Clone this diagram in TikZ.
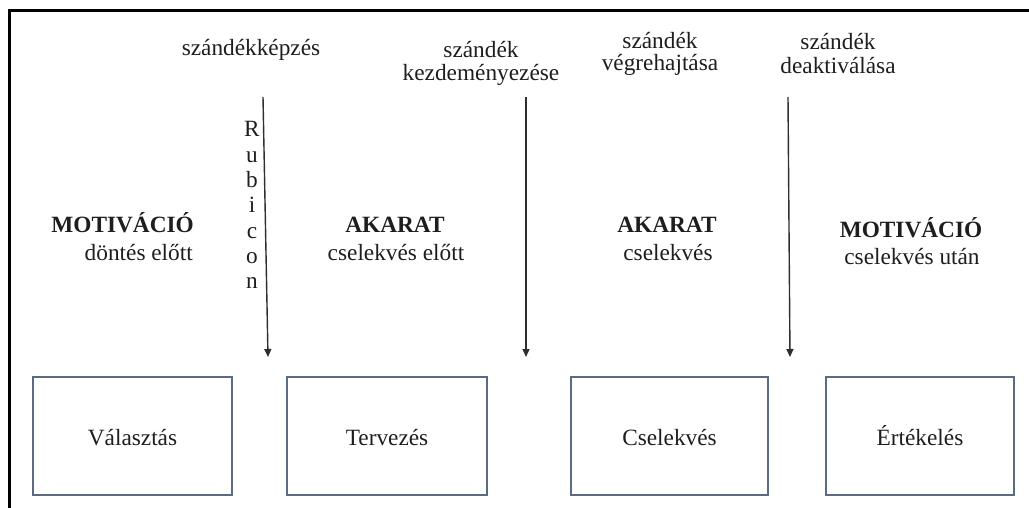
\documentclass[tikz,border=0pt]{standalone}
\usepackage{fontspec}
\setmainfont{Liberation Serif}
\usetikzlibrary{arrows.meta}
\definecolor{boxline}{HTML}{5B6B82}
\definecolor{ink}{HTML}{1E1E1E}
\definecolor{arrowink}{HTML}{2E2E2E}
\begin{document}
\begin{tikzpicture}[x=1pt,y=-1pt,
  every node/.style={inner sep=0pt, text=ink, font=\fontsize{23.3}{27}\selectfont},
  txt/.style={anchor=base},
  title/.style={anchor=base, font=\fontsize{23.3}{27}\selectfont\bfseries},
  phase/.style={draw=boxline, line width=1.5pt, minimum height=118pt,
    text height=18pt, text depth=0pt},
  transition/.style={draw=arrowink, line width=1.4pt, -{Triangle[width=7pt,length=8pt]}},
  frameline/.style={draw=black, line width=3pt}
]
\useasboundingbox (0,0) rectangle (1029,508);

% outer frame (left and top edges only)
\draw[frameline] (9,508) -- (9,11) -- (1029,11);

% transition labels along the top
\node[txt] (kepzes) at (251,56) {szándékképzés};
\node[txt] (kezd1) at (481,58) {szándék};
\node[txt] (kezd2) at (481,81) {kezdeményezése};
\node[txt] (vegr1) at (660,49) {szándék};
\node[txt] (vegr2) at (660,71) {végrehajtása};
\node[txt] (deak1) at (838,50) {szándék};
\node[txt] (deak2) at (838,74) {deaktiválása};

% transition arrows
\coordinate (a1s) at (263,97);  \coordinate (a1e) at (268,357);
\coordinate (a2s) at (526,97);  \coordinate (a2e) at (526,357);
\coordinate (a3s) at (788,97);  \coordinate (a3e) at (790,357);
\draw[transition] (a1s) -- (a1e);
\draw[transition] (a2s) -- (a2e);
\draw[transition] (a3s) -- (a3e);

% the Rubicon, written letter by letter beside the first arrow
\foreach \ch [count=\i from 0] in {R,u,b,i,c,o,n}
  \node[txt] (rub\i) at (252,137+25.3*\i) {\ch};

% phase headings
\node[title, anchor=base east] (mot1) at (194,233) {MOTIVÁCIÓ};
\node[txt, anchor=base east] (mot1s) at (193,261) {döntés előtt};
\node[title] (ak1) at (395,233) {AKARAT};
\node[txt] (ak1s) at (396,261) {cselekvés előtt};
\node[title] (ak2) at (667,233) {AKARAT};
\node[txt] (ak2s) at (668,261) {cselekvés};
\node[title] (mot2) at (911,237) {MOTIVÁCIÓ};
\node[txt] (mot2s) at (912,265) {cselekvés után};

% phase boxes
\node[phase, minimum width=199pt] (valasztas) at (132.5,436) {Választás};
\node[phase, minimum width=200pt] (tervezes) at (387,436) {Tervezés};
\node[phase, minimum width=197pt] (cselekves) at (669.5,436) {Cselekvés};
\node[phase, minimum width=188pt] (ertekeles) at (920,436) {Értékelés};
\end{tikzpicture}
\end{document}
